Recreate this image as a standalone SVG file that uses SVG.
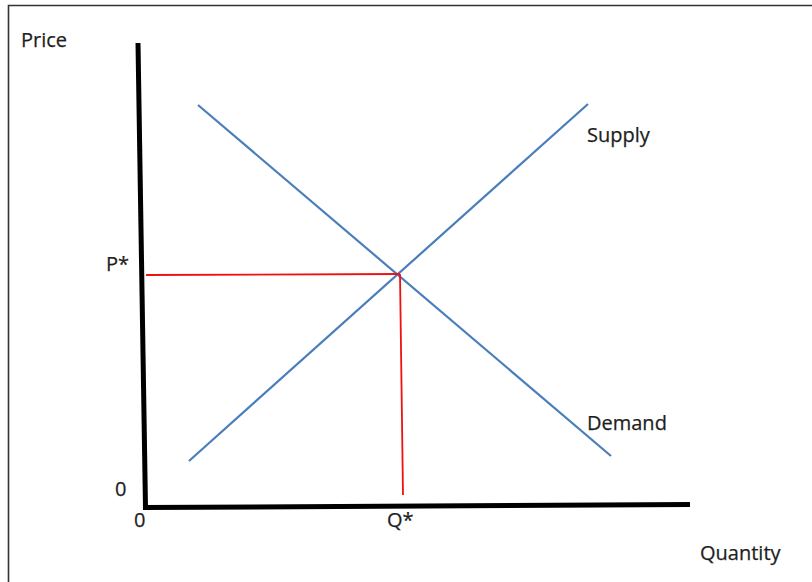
<svg xmlns="http://www.w3.org/2000/svg" width="812" height="582" viewBox="0 0 812 582">
<style>
.t{font-family:"Open Sans","Liberation Sans",sans-serif;font-size:20px;fill:#1e1e1e;stroke:#1e1e1e;stroke-width:0.25}
.ax{stroke:#000;stroke-width:5;stroke-linecap:butt;fill:none}
.bl{stroke:#4a7ebb;stroke-width:2.2;fill:none}
.rd{stroke:#f01010;stroke-width:1.8;fill:none}
</style>
<rect width="812" height="582" fill="#fff"/>
<path d="M8.5,582 V5.5 H812" fill="none" stroke="#333" stroke-width="1.6"/>
<g id="connectors">
<line class="ax" x1="138" y1="43" x2="145.5" y2="508"/>
<line class="ax" x1="143" y1="507.5" x2="690" y2="504.5"/>
<line class="bl" x1="189" y1="461" x2="588" y2="104"/>
<line class="bl" x1="198" y1="105" x2="611" y2="456"/>
<line class="rd" x1="146" y1="275" x2="400" y2="274"/>
<line class="rd" x1="400" y1="274" x2="403" y2="495"/>
</g>
<g id="labels">
<text class="t" x="21" y="47">Price</text>
<text class="t" x="106" y="271">P*</text>
<text class="t" x="115" y="496">0</text>
<text class="t" x="134" y="527">0</text>
<text class="t" x="387" y="527">Q*</text>
<text class="t" x="587" y="142">Supply</text>
<text class="t" x="587" y="430">Demand</text>
<text class="t" x="700" y="560">Quantity</text>
</g>
</svg>
